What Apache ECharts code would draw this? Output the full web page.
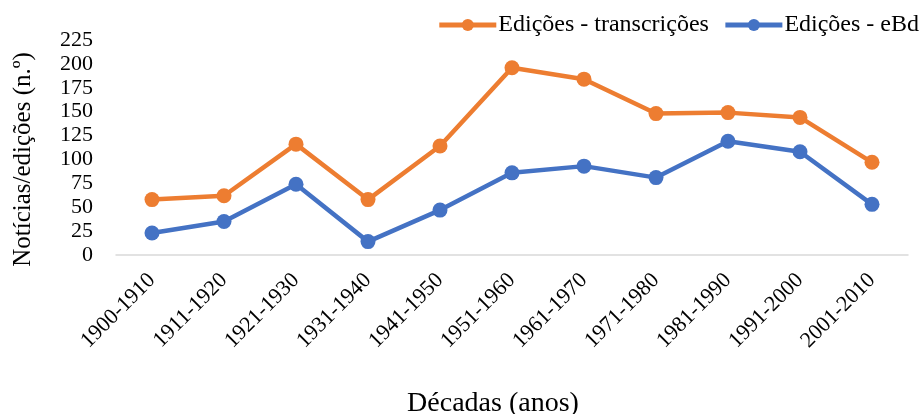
<!DOCTYPE html>
<html>
<head>
<meta charset="utf-8">
<script src="https://cdn.jsdelivr.net/npm/echarts@6/dist/echarts.min.js"></script>
<style>
  html, body { margin: 0; padding: 0; background: #fff; }
  #chart { width: 921px; height: 414px; }
</style>
</head>
<body>
<div id="chart"></div>
<script>
// Décadas e número de edições por fonte
const decadas = ['1900-1910', '1911-1920', '1921-1930', '1931-1940', '1941-1950',
  '1951-1960', '1961-1970', '1971-1980', '1981-1990', '1991-2000', '2001-2010'];
const edicoesTranscricoes = [58, 62, 116, 58, 114, 196, 184, 148, 149, 144, 97];
const edicoesEBd = [23, 35, 74, 14, 47, 86, 93, 81, 119, 108, 53];

const FONT = 'Liberation Serif';

const chart = echarts.init(document.getElementById('chart'));
chart.setOption({
  animation: false,
  textStyle: { fontFamily: FONT, color: '#000' },
  legend: {
    top: 13,
    right: 2,
    padding: 0,
    itemWidth: 57,
    itemHeight: 15,
    itemGap: 14,
    lineStyle: { width: 5 },
    textStyle: { fontFamily: FONT, fontSize: 24, color: '#000', padding: [0, 0, 0, -3] },
    data: ['Edições - transcrições', 'Edições - eBd']
  },
  grid: { left: 116, right: 13, top: 40, bottom: 159, containLabel: false, outerBoundsMode: 'none' },
  xAxis: {
    type: 'category',
    data: decadas,
    boundaryGap: true,
    name: 'Décadas (anos)',
    nameLocation: 'middle',
    nameGap: 135,
    nameTextStyle: { fontFamily: FONT, fontSize: 28, color: '#000', padding: [0, 38, 0, 0] },
    axisLine: { lineStyle: { color: '#d9d9d9', width: 1.5 } },
    axisTick: { show: false },
    axisLabel: { rotate: 45, fontFamily: FONT, fontSize: 22, color: '#000', margin: 22, interval: 0 }
  },
  yAxis: {
    type: 'value',
    min: 0,
    max: 225,
    interval: 25,
    name: 'Notícias/edições (n.º)',
    nameLocation: 'middle',
    nameGap: 80,
    nameTextStyle: { fontFamily: FONT, fontSize: 25, color: '#000', padding: [0, 24, 0, 0] },
    axisLine: { show: false },
    axisTick: { show: false },
    splitLine: { show: false },
    axisLabel: { fontFamily: FONT, fontSize: 22, color: '#000', margin: 23 }
  },
  series: [
    {
      name: 'Edições - transcrições',
      type: 'line',
      data: edicoesTranscricoes,
      symbol: 'circle',
      symbolSize: 15,
      itemStyle: { color: '#ed7d31' },
      lineStyle: { color: '#ed7d31', width: 4.5 }
    },
    {
      name: 'Edições - eBd',
      type: 'line',
      data: edicoesEBd,
      symbol: 'circle',
      symbolSize: 15,
      itemStyle: { color: '#4472c4' },
      lineStyle: { color: '#4472c4', width: 4.5 }
    }
  ]
});
</script>
</body>
</html>
